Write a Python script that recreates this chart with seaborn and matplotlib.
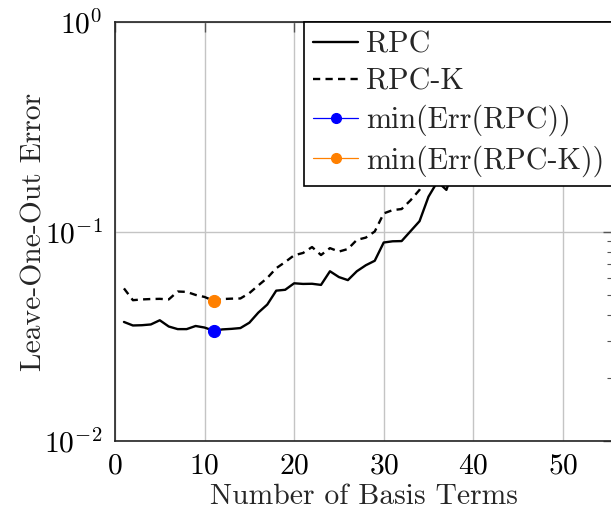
import numpy as np
import pandas as pd
import matplotlib
matplotlib.use("Agg")
import matplotlib.pyplot as plt
from matplotlib.lines import Line2D
import seaborn as sns

# Leave-one-out error versus number of basis terms
basis_terms = list(range(1, 41))
err_rpc = [0.0370, 0.0356, 0.0357, 0.0360, 0.0377, 0.0352, 0.0342, 0.0342, 0.0354, 0.0348,
           0.0336, 0.0341, 0.0343, 0.0346, 0.0367, 0.0410, 0.0448, 0.0522, 0.0527, 0.0566,
           0.0562, 0.0563, 0.0556, 0.0646, 0.0606, 0.0586, 0.0646, 0.0690, 0.0725, 0.0886,
           0.0898, 0.0900, 0.1004, 0.1120, 0.1466, 0.1730, 0.1580, 0.2100, 0.2500, 0.2900]
err_rpck = [0.0535, 0.0470, 0.0474, 0.0476, 0.0477, 0.0474, 0.0517, 0.0515, 0.0498, 0.0487,
            0.0467, 0.0476, 0.0478, 0.0479, 0.0508, 0.0553, 0.0600, 0.0668, 0.0715, 0.0770,
            0.0790, 0.0843, 0.0772, 0.0833, 0.0802, 0.0825, 0.0912, 0.0935, 0.1000, 0.1220,
            0.1265, 0.1280, 0.1410, 0.1580, 0.1900, 0.2200, 0.2500, 0.2800, 0.3200, 0.3600]
series_names = ["RPC", "RPC-K"]
min_labels = ["min(Err(RPC))", "min(Err(RPC-K))"]
x_ticks = [0, 10, 20, 30, 40, 50]

sns.set_style("white")
plt.rcParams.update({
    "font.family": ["cmr10"],
    "mathtext.fontset": "cm",
    "axes.formatter.use_mathtext": True,
    "axes.unicode_minus": False,
    "lines.scale_dashes": False,
})

FS = 21.3
LEG_FS = 21.7
fig = plt.figure(figsize=(6.11, 5.14), dpi=100)
ax = fig.add_axes([115 / 611, 73 / 514, (613 - 115) / 611, (441 - 22) / 514])

df = pd.DataFrame({"terms": basis_terms, "RPC": err_rpc, "RPC-K": err_rpck})

sns.lineplot(data=df, x="terms", y="RPC", ax=ax, color="black", lw=1.7, zorder=3)
sns.lineplot(data=df, x="terms", y="RPC-K", ax=ax, color="black", lw=1.7,
             linestyle=(0, (5.2, 3.8)), zorder=3)

i_rpc = int(np.argmin(err_rpc))
i_rpck = int(np.argmin(err_rpck))
blue, orange = "#0000ff", "#ff8000"
sns.scatterplot(x=[basis_terms[i_rpc]], y=[err_rpc[i_rpc]], ax=ax, color=blue,
                s=75, edgecolor=blue, linewidth=0.8, zorder=4)
sns.scatterplot(x=[basis_terms[i_rpck]], y=[err_rpck[i_rpck]], ax=ax, color=orange,
                s=75, edgecolor=orange, linewidth=0.8, zorder=4)

ax.set_yscale("log")
ax.set_ylim(1e-2, 1e0)
ax.set_xlim(0, 55.6)
ax.set_xticks(x_ticks)
ax.set_xlabel("Number of Basis Terms", fontsize=FS, labelpad=3)
ax.set_ylabel("Leave-One-Out Error", fontsize=FS, labelpad=-2)

ax.grid(True, which="major", color="#c4c4c4", lw=1.0)
ax.set_axisbelow(True)
for s in ax.spines.values():
    s.set_color("#222222")
    s.set_linewidth(1.2)
ax.tick_params(which="both", direction="in", top=True, right=True, colors="#555555",
               labelcolor="black", labelsize=FS)
ax.tick_params(which="major", length=7, width=1.0, pad=9)
ax.tick_params(which="minor", length=4.5, width=0.8)
ax.xaxis.set_minor_locator(matplotlib.ticker.NullLocator())

handles = [
    Line2D([], [], color="black", lw=1.7),
    Line2D([], [], color="black", lw=1.7, linestyle=(0, (5.2, 3.8))),
    Line2D([], [], color=blue, lw=0.9, marker="o", markersize=7),
    Line2D([], [], color=orange, lw=0.9, marker="o", markersize=7),
]
leg = ax.legend(handles, series_names + min_labels, loc="upper right",
                bbox_to_anchor=(1.0, 1.0), borderaxespad=0, fontsize=LEG_FS,
                frameon=True, fancybox=False, framealpha=1, edgecolor="black",
                handlelength=1.5, handletextpad=0.25, labelspacing=0.3,
                borderpad=0.3)
leg.get_frame().set_linewidth(1.2)
leg.set_zorder(5)

fig.savefig("out.png", dpi=100)
